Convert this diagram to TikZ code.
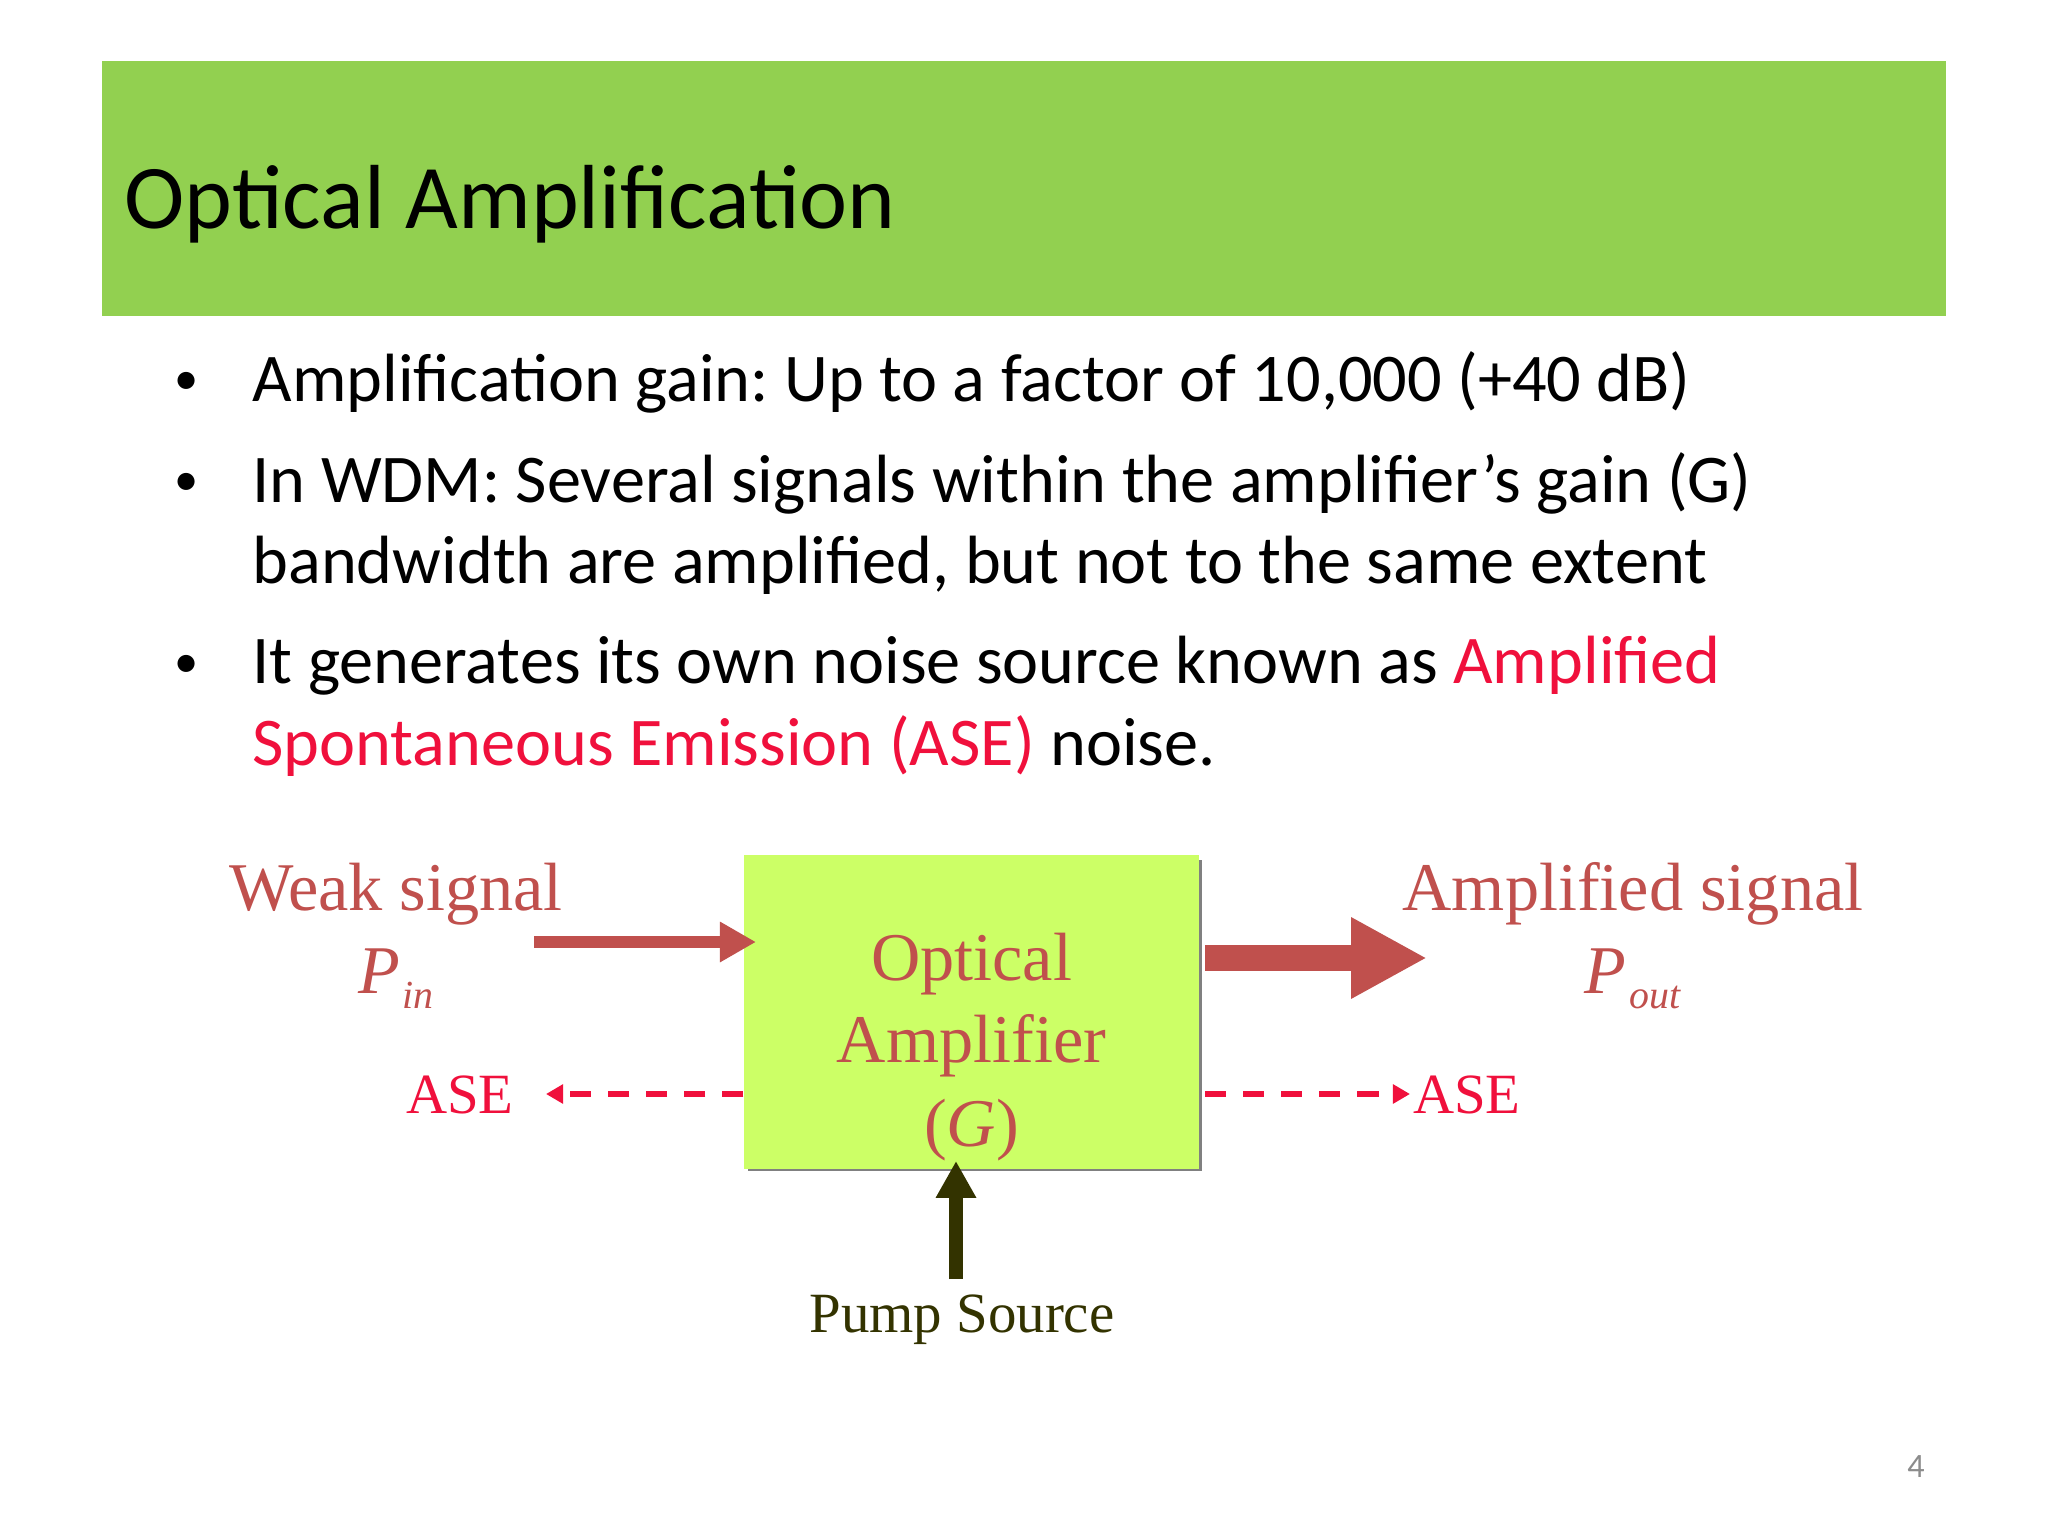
\documentclass[tikz,border=0pt]{standalone}
\usepackage{fontspec}
\setmainfont{Carlito}
\newfontfamily\timesf{Liberation Serif}
\usetikzlibrary{arrows.meta}
\definecolor{titlegreen}{HTML}{92D050}
\definecolor{asered}{HTML}{F0103C}
\definecolor{brick}{HTML}{C0504D}
\definecolor{boxfill}{HTML}{CCFF66}
\definecolor{shadowgray}{HTML}{808080}
\definecolor{pumpcol}{HTML}{333300}
\definecolor{pagegray}{HTML}{8C8C8C}
\frenchspacing
\begin{document}
\begin{tikzpicture}[x=0.3515625pt,y=-0.3515625pt,
  body/.style={inner sep=0pt, anchor=base west, font=\fontsize{24}{28}\selectfont},
  bul/.style={inner sep=0pt, anchor=base, font=\fontsize{17}{20}\selectfont},
  serif/.style={inner sep=0pt, anchor=base, font=\timesf\fontsize{24}{28}\selectfont, text=brick},
  asetxt/.style={inner sep=0pt, anchor=base, font=\timesf\fontsize{20}{24}\selectfont, text=asered},
  sigarrow/.style={draw=brick, line width=4.2pt, -{Triangle[length=12.7pt,width=13.4pt]}},
  fatarrow/.style={draw=brick, line width=8.8pt, -{Triangle[length=26.7pt,width=26.7pt]}},
  pumparrow/.style={draw=pumpcol, line width=4.6pt, -{Triangle[length=13pt,width=13.4pt]}},
  asearrow/.style={draw=asered, line width=2.3pt, dash pattern=on 7.4pt off 6pt, -{Triangle[length=6pt,width=6.5pt]}}
]
\useasboundingbox (0,0) rectangle (2048,1536);
\fill[white] (0,0) rectangle (2048,1536);
% title bar
\fill[titlegreen] (102,61) rectangle (1946,316);
\node[inner sep=0pt, anchor=base west, font=\fontsize{32}{38}\selectfont] (title) at (124,229) {Optical Amplification};
% bullets
\node[bul] (b1) at (187,395) {•};
\node[body] (l1) at (252,402) {Amplification gain: Up to a factor of 10,000 (+40 dB)};
\node[bul] (b2) at (187,496) {•};
\node[body] (l2) at (252,503) {In WDM: Several signals within the amplifier’s gain (G)};
\node[body] (l3) at (252,584) {bandwidth are amplified, but not to the same extent};
\node[bul] (b3) at (187,677) {•};
\node[body] (l4) at (252,684) {It generates its own noise source known as \textcolor{asered}{Amplified}};
\node[body] (l5) at (252,765) {\textcolor{asered}{Spontaneous Emission (ASE)} noise.};
% amplifier box with shadow
\fill[shadowgray] (748,860) rectangle (1202,1171);
\node[fill=boxfill, inner sep=0pt, minimum width=160pt, minimum height=110.1pt] (amp) at (971.5,1012) {};
\node[serif] (a1) at (971.5,980) {Optical};
\node[serif] (a2) at (971.5,1062) {Amplifier};
\node[serif] (a3) at (971.5,1146) {(\textit{G})};
% labels
\node[serif] (weak) at (396,910) {Weak signal};
\node[serif] (pin) at (396,993) {\textit{P}\kern1pt\raisebox{-5.5pt}{\fontsize{14}{14}\selectfont\textit{in}}};
\node[serif] (amps) at (1633,910) {Amplified signal};
\node[serif] (pout) at (1633,993) {\textit{P}\kern1pt\raisebox{-5.5pt}{\fontsize{14}{14}\selectfont\textit{out}}};
\node[asetxt] (aseL) at (460,1113) {ASE};
\node[asetxt] (aseR) at (1467,1113) {ASE};
\node[inner sep=0pt, anchor=base, font=\timesf\fontsize{20}{24}\selectfont, text=pumpcol] (pump) at (962,1332) {Pump Source};
\node[inner sep=0pt, anchor=base, font=\fontsize{12}{14}\selectfont, text=pagegray] (page) at (1916,1477) {4};
% connectors
\coordinate (weakstart) at (534,942);
\coordinate (weaktip) at (756,942);
\draw[sigarrow] (weakstart) -- (weaktip);
\coordinate (fatstart) at (1205,958);
\coordinate (fattip) at (1427,958);
\draw[fatarrow] (fatstart) -- (fattip);
\coordinate (pumpstart) at (956,1279);
\coordinate (pumptip) at (956,1161);
\draw[pumparrow] (pumpstart) -- (pumptip);
\coordinate (aseLtip) at (546,1094);
\draw[asearrow] (amp.west |- aseLtip) -- (aseLtip);
\coordinate (aseRstart) at (1205,1094);
\coordinate (aseRtip) at (1410,1094);
\draw[asearrow] (aseRstart) -- (aseRtip);
\end{tikzpicture}
\end{document}
